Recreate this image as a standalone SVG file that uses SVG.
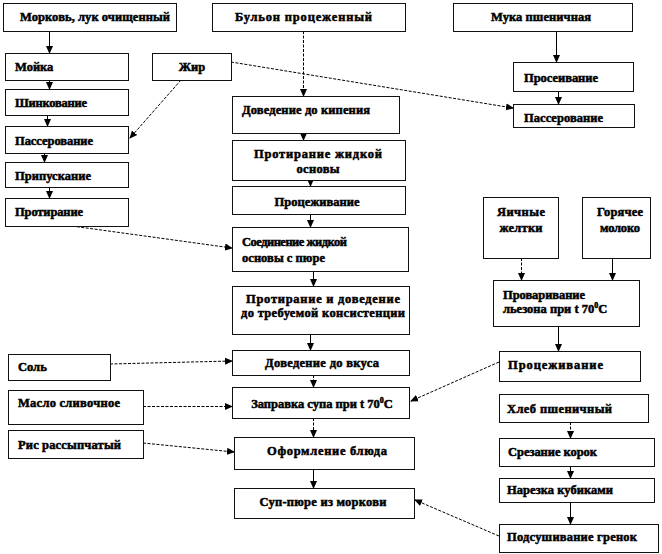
<svg xmlns="http://www.w3.org/2000/svg" width="662" height="554" viewBox="0 0 662 554">
<defs>
<style>
rect{fill:#fff;stroke:#111;stroke-width:1}
text{font-family:"Liberation Serif","Times New Roman",serif;font-weight:bold;font-size:12.5px;fill:#000;stroke:#000;stroke-width:0.5}
.c{text-anchor:middle}
.sup{font-size:8px}
.ln{fill:none;stroke:#000;stroke-width:1;marker-end:url(#ah)}
.dt{stroke-dasharray:3 1.5}
</style>
<marker id="ah" markerUnits="userSpaceOnUse" markerWidth="8" markerHeight="8" refX="7" refY="4" orient="auto">
<path d="M0,0.5 L8,4 L0,7.5 z" fill="#000"/>
</marker>
</defs>
<rect x="0" y="0" width="662" height="554" style="fill:#fff;stroke:none"/>
<g id="connectors">
<line class="ln" x1="49.5" y1="31" x2="49.5" y2="53"/>
<line class="ln" x1="49.5" y1="80" x2="49.5" y2="89"/>
<line class="ln" x1="47.5" y1="115" x2="47.5" y2="126"/>
<line class="ln" x1="44.5" y1="153" x2="44.5" y2="162"/>
<line class="ln" x1="49.5" y1="187" x2="49.5" y2="198"/>
<line class="ln dt" x1="181" y1="80" x2="130" y2="138"/>
<line class="ln dt" x1="231" y1="62" x2="513" y2="108"/>
<line class="ln dt" x1="303.5" y1="31" x2="303.5" y2="96"/>
<line class="ln" x1="303.5" y1="133" x2="303.5" y2="140"/>
<line class="ln" x1="310.5" y1="180" x2="310.5" y2="186"/>
<line class="ln" x1="310.5" y1="214" x2="310.5" y2="227"/>
<line class="ln dt" x1="50" y1="223" x2="232" y2="248"/>
<line class="ln" x1="313.5" y1="271" x2="313.5" y2="286"/>
<line class="ln" x1="310.5" y1="334" x2="310.5" y2="350"/>
<line class="ln dt" x1="110" y1="364" x2="232" y2="361"/>
<line class="ln dt" x1="313.5" y1="375" x2="313.5" y2="387"/>
<line class="ln dt" x1="143" y1="406.5" x2="232" y2="406.5"/>
<line class="ln dt" x1="313.5" y1="418" x2="313.5" y2="437"/>
<line class="ln dt" x1="143" y1="443" x2="234" y2="452"/>
<line class="ln" x1="313.5" y1="469" x2="313.5" y2="488"/>
<line class="ln" x1="556.5" y1="31" x2="556.5" y2="62"/>
<line class="ln" x1="558.5" y1="91" x2="558.5" y2="104"/>
<line class="ln dt" x1="521.5" y1="258" x2="521.5" y2="280"/>
<line class="ln" x1="612.5" y1="258" x2="612.5" y2="280"/>
<line class="ln" x1="558.5" y1="326" x2="558.5" y2="351"/>
<line class="ln dt" x1="499" y1="362" x2="411" y2="401"/>
<line class="ln dt" x1="570.5" y1="422" x2="570.5" y2="438"/>
<line class="ln" x1="570.5" y1="466" x2="570.5" y2="478"/>
<line class="ln" x1="570.5" y1="502" x2="570.5" y2="524"/>
<line class="ln dt" x1="499" y1="536" x2="415" y2="500"/>
</g>
<g id="n1"><rect x="3.5" y="3.5" width="173" height="28"/><text x="20" y="21" textLength="150" lengthAdjust="spacing">Морковь,  лук очищенный</text></g>
<g id="n2"><rect x="212.5" y="3.5" width="193" height="28"/><text x="235" y="21" textLength="137" lengthAdjust="spacing">Бульон процеженный</text></g>
<g id="n3"><rect x="453.5" y="3.5" width="179" height="28"/><text x="491" y="21" textLength="100" lengthAdjust="spacing">Мука  пшеничная</text></g>
<g id="n4"><rect x="5.5" y="53.5" width="123" height="27"/><text x="15" y="71">Мойка</text></g>
<g id="n5"><rect x="152.5" y="53.5" width="79" height="27"/><text class="c" x="192" y="71">Жир</text></g>
<g id="n6"><rect x="5.5" y="89.5" width="123" height="26"/><text x="15" y="107" textLength="72" lengthAdjust="spacing">Шинкование</text></g>
<g id="n7"><rect x="5.5" y="126.5" width="123" height="27"/><text x="15" y="145" textLength="78" lengthAdjust="spacing">Пассерование</text></g>
<g id="n8"><rect x="5.5" y="162.5" width="123" height="25"/><text x="15" y="180" textLength="76" lengthAdjust="spacing">Припускание</text></g>
<g id="n9"><rect x="5.5" y="198.5" width="123" height="28"/><text x="15" y="216" textLength="68" lengthAdjust="spacing">Протирание</text></g>
<g id="n10"><rect x="232.5" y="96.5" width="167" height="37"/><text x="242" y="114" textLength="128" lengthAdjust="spacing">Доведение до кипения</text></g>
<g id="n11"><rect x="232.5" y="140.5" width="173" height="40"/><text class="c" x="318" y="158" textLength="128" lengthAdjust="spacing">Протирание жидкой</text><text class="c" x="318" y="173" textLength="43" lengthAdjust="spacing">основы</text></g>
<g id="n12"><rect x="232.5" y="186.5" width="173" height="28"/><text class="c" x="317" y="206" textLength="85" lengthAdjust="spacing">Процеживание</text></g>
<g id="n13"><rect x="232.5" y="227.5" width="176" height="44"/><text x="242" y="246" textLength="105" lengthAdjust="spacing">Соединение  жидкой</text><text x="242" y="262" textLength="83" lengthAdjust="spacing">основы с пюре</text></g>
<g id="n14"><rect x="232.5" y="286.5" width="177" height="48"/><text class="c" x="323" y="303" textLength="154" lengthAdjust="spacing">Протирание и доведение</text><text class="c" x="323" y="317" textLength="164" lengthAdjust="spacing">до требуемой консистенции</text></g>
<g id="n15"><rect x="232.5" y="350.5" width="177" height="25"/><text class="c" x="322" y="367" textLength="114" lengthAdjust="spacing">Доведение до вкуса</text></g>
<g id="n16"><rect x="232.5" y="387.5" width="177" height="31"/><text class="c" x="322" y="408">Заправка супа при t 70<tspan class="sup" dy="-5">0</tspan><tspan dy="5">С</tspan></text></g>
<g id="n17"><rect x="234.5" y="437.5" width="180" height="32"/><text class="c" x="327" y="455" textLength="120" lengthAdjust="spacing">Оформление блюда</text></g>
<g id="n18"><rect x="234.5" y="488.5" width="180" height="30"/><text class="c" x="323" y="506" textLength="127" lengthAdjust="spacing">Суп-пюре  из моркови</text></g>
<g id="n19"><rect x="8.5" y="354.5" width="102" height="26"/><text x="18" y="371">Соль</text></g>
<g id="n20"><rect x="8.5" y="390.5" width="135" height="34"/><text x="18" y="407" textLength="102" lengthAdjust="spacing">Масло  сливочное</text></g>
<g id="n21"><rect x="8.5" y="430.5" width="135" height="28"/><text x="18" y="449" textLength="103" lengthAdjust="spacing">Рис рассыпчатый</text></g>
<g id="n22"><rect x="513.5" y="62.5" width="120" height="29"/><text x="524" y="82" textLength="74" lengthAdjust="spacing">Просеивание</text></g>
<g id="n23"><rect x="513.5" y="104.5" width="121" height="23"/><text x="524" y="122" textLength="79" lengthAdjust="spacing">Пассерование</text></g>
<g id="n24"><rect x="483.5" y="197.5" width="75" height="61"/><text class="c" x="521" y="216" textLength="48" lengthAdjust="spacing">Яичные</text><text class="c" x="521" y="232" textLength="43" lengthAdjust="spacing">желтки</text></g>
<g id="n25"><rect x="582.5" y="197.5" width="68" height="61"/><text class="c" x="620" y="216" textLength="46" lengthAdjust="spacing">Горячее</text><text class="c" x="620" y="232" textLength="40" lengthAdjust="spacing">молоко</text></g>
<g id="n26"><rect x="493.5" y="280.5" width="146" height="46"/><text x="503" y="299" textLength="82" lengthAdjust="spacing">Проваривание</text><text x="503" y="313">льезона при t 70<tspan class="sup" dy="-5">0</tspan><tspan dy="5">С</tspan></text></g>
<g id="n27"><rect x="499.5" y="351.5" width="141" height="30"/><text x="508" y="369" textLength="95" lengthAdjust="spacing">Процеживание</text></g>
<g id="n28"><rect x="499.5" y="394.5" width="149" height="28"/><text x="507" y="413" textLength="105" lengthAdjust="spacing">Хлеб пшеничный</text></g>
<g id="n29"><rect x="499.5" y="438.5" width="155" height="28"/><text x="508" y="456" textLength="89" lengthAdjust="spacing">Срезание корок</text></g>
<g id="n30"><rect x="499.5" y="478.5" width="155" height="24"/><text x="507" y="494" textLength="106" lengthAdjust="spacing">Нарезка кубиками</text></g>
<g id="n31"><rect x="499.5" y="524.5" width="159" height="28"/><text x="507" y="541" textLength="130" lengthAdjust="spacing">Подсушивание гренок</text></g>
</svg>
